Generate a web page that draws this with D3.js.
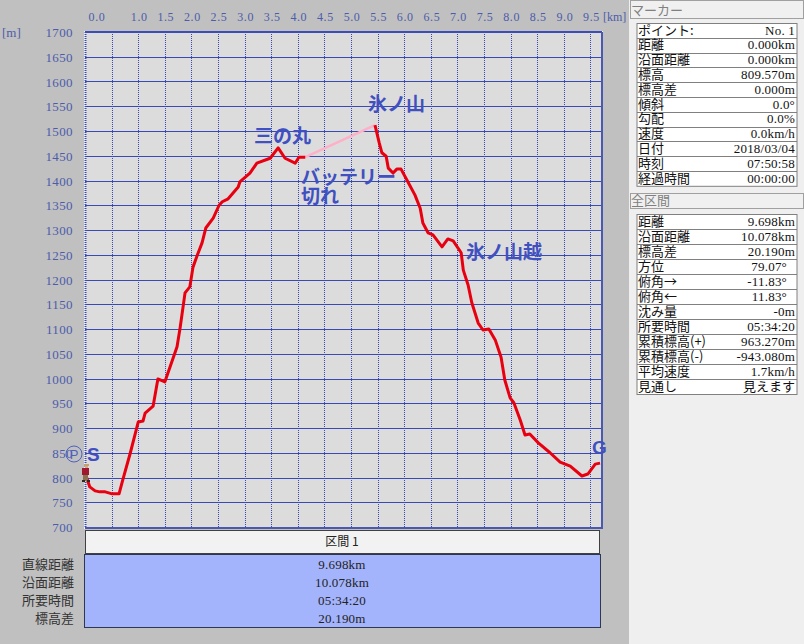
<!DOCTYPE html>
<html>
<head>
<meta charset="utf-8">
<script src="https://cdn.jsdelivr.net/npm/d3@7"></script>
<style>
html, body { margin: 0; padding: 0; background: #c0c0c0; }
svg { display: block; }
</style>
</head>
<body>
<svg id="mysvg" width="804" height="644"></svg>
<script>
// distance [km] / elevation [m]
const kmA = [0.00,0.09,0.19,0.28,0.38,0.51,0.64,0.71,0.85,1.00,1.09,1.13,1.28,1.37,1.50,1.73,1.79,1.88,1.97,2.03,2.11,2.20,2.27,2.41,2.52,2.58,2.69,2.88,2.91,3.10,3.23,3.48,3.63,3.76,3.95,4.02,4.14];
const elevA = [810,781,773,771,771,767,767,795,849,912,914,930,944,999,993,1064,1104,1173,1185,1225,1249,1274,1304,1324,1350,1357,1363,1387,1397,1415,1435,1445,1466,1445,1435,1447,1447];
const kmGap = [4.14,5.45];
const elevGap = [1447,1512];
const kmB = [5.45,5.53,5.58,5.66,5.70,5.79,5.86,5.94,6.07,6.20,6.30,6.35,6.45,6.54,6.71,6.82,6.92,7.07,7.11,7.20,7.27,7.39,7.48,7.59,7.71,7.82,7.89,7.99,8.06,8.18,8.27,8.36,8.52,8.74,8.93,9.12,9.34,9.45,9.59,9.68];
const elevB = [1512,1476,1456,1449,1425,1415,1423,1423,1397,1371,1344,1314,1294,1290,1266,1282,1278,1254,1219,1189,1153,1112,1098,1100,1078,1043,997,961,951,916,886,888,870,850,831,823,803,807,827,829];

const xTicks = [0,0.5,1,1.5,2,2.5,3,3.5,4,4.5,5,5.5,6,6.5,7,7.5,8,8.5,9,9.5];
const yTicks = d3.range(700, 1701, 50);

const markerLabels = ["ポイント:","距離","沿面距離","標高","標高差","傾斜","勾配","速度","日付","時刻","経過時間"];
const markerValues = ["No. 1","0.000km","0.000km","809.570m","0.000m","0.0°","0.0%","0.0km/h","2018/03/04","07:50:58","00:00:00"];
const totalLabels = ["距離","沿面距離","標高差","方位","俯角→","俯角←","沈み量","所要時間","累積標高(+)","累積標高(-)","平均速度","見通し"];
const totalValues = ["9.698km","10.078km","20.190m","79.07°","-11.83°","11.83°","-0m","05:34:20","963.270m","-943.080m","1.7km/h","見えます"];
const sectionLabels = ["直線距離","沿面距離","所要時間","標高差"];
const sectionValues = ["9.698km","10.078km","05:34:20","20.190m"];

const jp = '"Noto Sans CJK JP", sans-serif';
const num = '"Liberation Serif", serif';
const sans = '"Liberation Sans", sans-serif';
const blue = '#3a4ab4';
const labelBlue = '#4050c0';
const tickBlue = '#4c5cac';

const svg = d3.select('#mysvg');

const x = d3.scaleLinear().domain([0, 9.698]).range([85, 601]);
const y = d3.scaleLinear().domain([700, 1700]).range([527, 32]);

// plot area
svg.append('rect').attr('x', 84).attr('y', 31).attr('width', 519).attr('height', 498).attr('fill', '#f4f4fc');
svg.append('rect').attr('x', 85).attr('y', 32).attr('width', 517).attr('height', 496).attr('fill', '#dcdcdc');

const grid = svg.append('g');
grid.selectAll('line.h').data(yTicks).join('line')
    .attr('x1', 85).attr('x2', 601)
    .attr('y1', d => Math.round(y(d)) + 0.5).attr('y2', d => Math.round(y(d)) + 0.5)
    .attr('stroke', blue).attr('stroke-width', 1);
grid.selectAll('line.v').data(xTicks).join('line')
    .attr('x1', d => Math.round(x(d)) + 0.5).attr('x2', d => Math.round(x(d)) + 0.5)
    .attr('y1', 32).attr('y2', 527)
    .attr('stroke', blue).attr('stroke-width', d => d === 0 ? 2 : 1).attr('stroke-dasharray', '1,1');

// frame, the left side stays dotted
const frame = svg.append('g').attr('stroke', '#3c4cb8').attr('stroke-width', 2);
frame.append('line').attr('x1', 85).attr('x2', 602).attr('y1', 32).attr('y2', 32);
frame.append('line').attr('x1', 85).attr('x2', 602).attr('y1', 528).attr('y2', 528).attr('stroke', '#4a58b0');
frame.append('line').attr('x1', 602).attr('x2', 602).attr('y1', 32).attr('y2', 529).attr('stroke', '#4a58b0');

// axis labels
svg.selectAll('text.xl').data(xTicks.filter(d => d !== 0.5)).join('text')
    .attr('x', d => d === 0 ? 97 : x(d) + 1).attr('y', 21)
    .attr('text-anchor', 'middle').attr('font-family', num).attr('font-size', 12).attr('letter-spacing', 0.6)
    .attr('fill', tickBlue).text(d => d.toFixed(1));
svg.selectAll('text.yl').data(yTicks).join('text')
    .attr('x', 73).attr('y', d => y(d) + 5)
    .attr('text-anchor', 'end').attr('font-family', num).attr('font-size', 13).attr('letter-spacing', 0.4)
    .attr('fill', tickBlue).text(d => d);
svg.append('text').attr('x', 2).attr('y', 37).attr('font-family', num).attr('font-size', 13).attr('fill', tickBlue).text('[m]');
svg.append('text').attr('x', 603).attr('y', 21).attr('font-family', num).attr('font-size', 12).attr('fill', tickBlue).text('[km]');

// profile
const line = d3.line().x(d => x(d[0])).y(d => y(d[1]));
svg.append('path').datum(d3.zip(kmGap, elevGap)).attr('d', line)
    .attr('fill', 'none').attr('stroke', '#ffb0c8').attr('stroke-width', 2.5);
[d3.zip(kmA, elevA), d3.zip(kmB, elevB)].forEach(seg => {
    svg.append('path').datum(seg).attr('d', line)
        .attr('fill', 'none').attr('stroke', '#e80010').attr('stroke-width', 3).attr('stroke-linejoin', 'round');
});

// hiker marker at the start point
const hiker = svg.append('g').attr('transform', 'translate(85,464)');
hiker.append('rect').attr('x', -1).attr('y', 0).attr('width', 5).attr('height', 2).attr('fill', '#c8a070');
hiker.append('rect').attr('x', 0).attr('y', 2).attr('width', 3).attr('height', 2).attr('fill', '#d8a888');
hiker.append('rect').attr('x', -3).attr('y', 4).attr('width', 7).attr('height', 7).attr('fill', '#a01830');
hiker.append('rect').attr('x', -2).attr('y', 11).attr('width', 5).attr('height', 6).attr('fill', '#8a7050');
hiker.append('rect').attr('x', -3).attr('y', 16).attr('width', 3).attr('height', 2).attr('fill', '#302820');
hiker.append('rect').attr('x', 2).attr('y', 16).attr('width', 3).attr('height', 2).attr('fill', '#302820');

// annotations
const notes = [
    ['三の丸', 254, 143], ['氷ノ山', 368, 111], ['バッテリー', 301, 184], ['切れ', 301, 203], ['氷ノ山越', 466, 259]
];
svg.selectAll('text.note').data(notes).join('text')
    .attr('x', d => d[1]).attr('y', d => d[2])
    .attr('font-family', jp).attr('font-weight', 700).attr('font-size', 19)
    .attr('fill', labelBlue).text(d => d[0]);
svg.append('text').attr('x', 87).attr('y', 461).attr('font-family', sans).attr('font-weight', 700).attr('font-size', 19).attr('fill', labelBlue).text('S');
svg.append('text').attr('x', 592).attr('y', 454).attr('font-family', sans).attr('font-weight', 700).attr('font-size', 19).attr('fill', labelBlue).text('G');
svg.append('circle').attr('cx', 74).attr('cy', 454).attr('r', 8).attr('fill', 'none').attr('stroke', '#5060c0').attr('stroke-width', 1);
svg.append('text').attr('x', 74).attr('y', 459).attr('text-anchor', 'middle').attr('font-family', sans).attr('font-size', 13).attr('fill', '#5060c0').text('P');

// section table
svg.append('rect').attr('x', 85).attr('y', 530).attr('width', 515).attr('height', 25).attr('fill', '#404040');
svg.append('rect').attr('x', 86).attr('y', 531).attr('width', 513).attr('height', 22).attr('fill', '#f2f2f2');
svg.append('text').attr('x', 342).attr('y', 546).attr('text-anchor', 'middle').attr('font-family', jp).attr('font-size', 12).attr('fill', '#222').text('区間 1');
svg.append('rect').attr('x', 84.5).attr('y', 554.5).attr('width', 516).attr('height', 73)
    .attr('fill', '#a4b4fc').attr('stroke', '#303850').attr('stroke-width', 1);
sectionLabels.forEach((d, i) => {
    const cy = 568.5 + i * 18.2;
    svg.append('text').attr('x', 74).attr('y', cy).attr('text-anchor', 'end').attr('font-family', jp).attr('font-size', 13).attr('fill', '#333').text(d);
    svg.append('text').attr('x', 342).attr('y', cy).attr('text-anchor', 'middle').attr('font-family', num).attr('font-size', 13).attr('letter-spacing', 0.2).attr('fill', '#222').text(sectionValues[i]);
});

// right panels
svg.append('rect').attr('x', 629).attr('y', 0).attr('width', 175).attr('height', 644).attr('fill', '#efefef');

function header(top, h, text) {
    svg.append('rect').attr('x', 630.5).attr('y', top + 0.5).attr('width', 173).attr('height', h).attr('fill', '#f0f0f0').attr('stroke', '#a0a0a0');
    svg.append('text').attr('x', 631).attr('y', top + h - 3).attr('font-family', jp).attr('font-size', 13).attr('fill', '#808080').text(text);
}

function infoTable(top, rowH, labels, values) {
    svg.append('rect').attr('x', 637).attr('y', top + 0.5).attr('width', 160).attr('height', rowH * labels.length)
        .attr('fill', '#fff').attr('stroke', '#808080');
    labels.forEach((d, i) => {
        const ry = top + i * rowH;
        if (i > 0) svg.append('line').attr('x1', 637).attr('x2', 797).attr('y1', Math.round(ry) + 0.5).attr('y2', Math.round(ry) + 0.5).attr('stroke', '#808080');
        svg.append('text').attr('x', 638).attr('y', ry + 11.5).attr('font-family', jp).attr('font-size', 13).attr('fill', '#111').text(d);
        const isJp = /[^\x00-\xff]/.test(values[i]) && !values[i].includes('°');
        // the bearing rows sit a little in from the edge
        const isAngle = /\d\d°$/.test(values[i]);
        svg.append('text').attr('x', isAngle ? 787 : 795).attr('y', ry + 11.5).attr('text-anchor', 'end')
            .attr('font-family', isJp ? jp : num).attr('font-size', 13).attr('letter-spacing', isJp ? 0 : 0.2).attr('fill', '#111').text(values[i]);
    });
}

header(0, 18, 'マーカー');
infoTable(23, 14.8, markerLabels, markerValues);
header(193, 15, '全区間');
infoTable(214, 15, totalLabels, totalValues);
</script>
</body>
</html>
